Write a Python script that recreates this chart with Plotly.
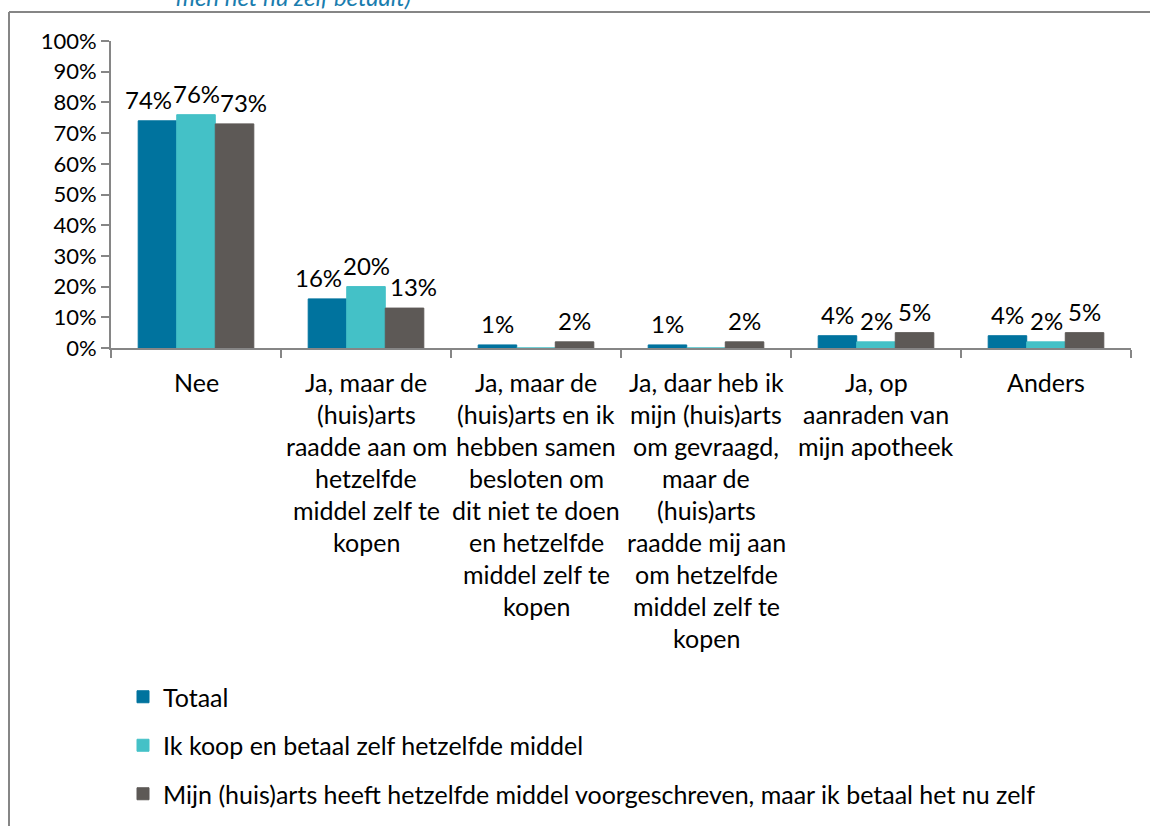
import plotly.graph_objects as go

categories = ["Nee", "Ja, maar de (huis)arts raadde aan", "Ja, samen besloten",
              "Ja, gevraagd", "Ja, apotheek", "Anders"]
category_lines = [
    ["Nee"],
    ["Ja, maar de", "(huis)arts", "raadde aan om", "hetzelfde", "middel zelf te", "kopen"],
    ["Ja, maar de", "(huis)arts en ik", "hebben samen", "besloten om", "dit niet te doen",
     "en hetzelfde", "middel zelf te", "kopen"],
    ["Ja, daar heb ik", "mijn (huis)arts", "om gevraagd,", "maar de", "(huis)arts",
     "raadde mij aan", "om hetzelfde", "middel zelf te", "kopen"],
    ["Ja, op", "aanraden van", "mijn apotheek"],
    ["Anders"],
]
series_names = [
    "Totaal",
    "Ik koop en betaal zelf hetzelfde middel",
    "Mijn (huis)arts heeft hetzelfde middel voorgeschreven, maar ik betaal het nu zelf",
]
totaal = [0.74, 0.16, 0.01, 0.01, 0.04, 0.04]
zelf_kopen = [0.76, 0.20, 0.00, 0.00, 0.02, 0.02]
voorgeschreven = [0.73, 0.13, 0.02, 0.02, 0.05, 0.05]
colors = ["#00739E", "#44C1C7", "#5D5956"]
tick_vals = [i / 10 for i in range(11)]
tick_text = [f"{i * 10}%" for i in range(11)]
title_text = "men het nu zelf betaalt)"

FONT = "Lato, 'Open Sans', sans-serif"
AX = "#868686"
W, H = 1150, 826
ML, MR, MT, MB = 111, 19, 41, 478
BARGAP = 0.32
PLOT_W = W - ML - MR
PLOT_H = H - MT - MB

all_series = [totaal, zelf_kopen, voorgeschreven]

fig = go.Figure()
for i, (name, vals) in enumerate(zip(series_names, all_series)):
    fig.add_trace(go.Bar(
        x=categories, y=vals, name=name,
        marker=dict(color=colors[i], line=dict(color=colors[i], width=1)),
        legendgroup=f"g{i}", cliponaxis=False,
    ))

# value labels: centred over each bar, pushed apart where neighbours collide (as Excel does)
bar_px = PLOT_W / len(categories) * (1 - BARGAP) / len(all_series)
label_h_px = 26
def label_w(v):
    return 14 * len(str(round(v * 100))) + 18

annotations = []
for c, cat in enumerate(categories):
    vals = [s[c] for s in all_series]
    collide = False
    for a in range(len(vals) - 1):
        b = a + 1
        if vals[a] > 0 and vals[b] > 0:
            if (label_w(vals[a]) + label_w(vals[b])) / 2 > bar_px and \
                    abs(vals[a] - vals[b]) * PLOT_H < label_h_px:
                collide = True
    for i, v in enumerate(vals):
        if v <= 0:
            continue
        nudge = (i - 1) * 9 if collide else 0
        annotations.append(dict(
            x=cat, xref="x", y=v, yref="y", text=f"{round(v * 100)}%", showarrow=False,
            xanchor="center", yanchor="bottom", xshift=(i - 1) * bar_px + nudge, yshift=5,
            font=dict(size=24, color="#000000", family=FONT),
        ))

for cat, lines in zip(categories, category_lines):
    for j, line in enumerate(lines):
        annotations.append(dict(
            x=cat, xref="x", y=0, yref="y", text=line, showarrow=False,
            yanchor="middle", xanchor="center", yshift=-34 - 32 * j,
            font=dict(size=25, color="#000000", family=FONT),
        ))
annotations.append(dict(
    x=(293 - ML) / PLOT_W, xref="paper", y=(348 - 6) / PLOT_H, yref="paper",
    text=f"<i>{title_text}</i>", showarrow=False, xanchor="center", yanchor="bottom",
    yshift=-7, font=dict(size=24, color="#1A7DAE", family=FONT),
))

shapes = [
    dict(type="line", xref="paper", yref="paper", x0=(9 - ML) / PLOT_W, x1=(9 - ML) / PLOT_W,
         y0=(348 - 12) / PLOT_H, y1=-2, line=dict(color=AX, width=2)),
    dict(type="line", xref="paper", yref="paper", x0=(9 - ML) / PLOT_W, x1=1.1,
         y0=(348 - 12) / PLOT_H, y1=(348 - 12) / PLOT_H, line=dict(color=AX, width=2)),
]

fig.update_layout(
    width=W, height=H,
    margin=dict(l=ML, r=MR, t=MT, b=MB, autoexpand=False),
    paper_bgcolor="white", plot_bgcolor="white",
    font=dict(family=FONT, size=24, color="#000000"),
    barmode="group", bargap=BARGAP, bargroupgap=0,
    showlegend=True,
    legend=dict(orientation="v", x=(123 - ML) / PLOT_W, xanchor="left",
                y=(348 - 674) / PLOT_H, yanchor="top", tracegroupgap=13,
                font=dict(size=25, family=FONT, color="#000000"),
                bgcolor="rgba(0,0,0,0)", itemwidth=30),
    annotations=annotations, shapes=shapes,
)
fig.update_xaxes(showticklabels=False, ticks="outside", tickson="boundaries",
                 ticklen=8, tickcolor=AX, tickwidth=2, showline=True, linecolor=AX,
                 linewidth=2, showgrid=False)
fig.update_yaxes(range=[0, 1], tickvals=tick_vals, ticktext=tick_text, ticks="outside",
                 ticklen=8, tickcolor=AX, tickwidth=2, showline=True, linecolor=AX,
                 linewidth=2, showgrid=False, zeroline=False,
                 tickfont=dict(size=22, family=FONT, color="#000000"))

fig.write_html("out.html", config={"displayModeBar": False},
               post_script="document.body.style.margin='0';"
               "document.body.style.overflow='hidden';")
